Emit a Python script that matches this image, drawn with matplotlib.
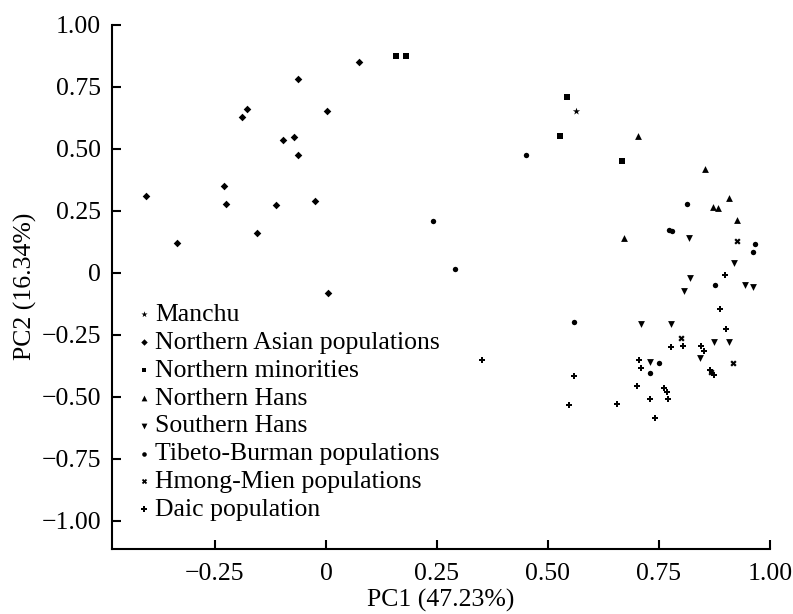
import matplotlib.pyplot as plt

# 集団ごとの PC1 / PC2 値
manchu_x = [0.562]
manchu_y = [0.651]

nasia_x = [-0.405, 0.075, -0.062, -0.177, -0.189, 0.002, -0.096, -0.072,
           -0.062, -0.229, -0.226, -0.113, -0.024, -0.155, -0.336, 0.005]
nasia_y = [0.310, 0.852, 0.780, 0.661, 0.629, 0.653, 0.535, 0.547,
           0.477, 0.350, 0.278, 0.273, 0.288, 0.159, 0.121, -0.081]

nmin_x = [0.158, 0.181, 0.543, 0.526, 0.667]
nmin_y = [0.875, 0.875, 0.708, 0.550, 0.450]

nhan_x = [0.703, 0.853, 0.907, 0.872, 0.884, 0.925, 0.671]
nhan_y = [0.551, 0.419, 0.302, 0.264, 0.260, 0.211, 0.139]

shan_x = [0.817, 0.918, 0.820, 0.806, 0.943, 0.962, 0.709, 0.777,
          0.874, 0.908, 0.842, 0.730]
shan_y = [0.141, 0.038, -0.019, -0.074, -0.050, -0.056, -0.207, -0.207,
          -0.279, -0.279, -0.345, -0.359]

tb_x = [0.242, 0.450, 0.290, 0.814, 0.773, 0.779, 0.966, 0.961,
        0.875, 0.559, 0.749, 0.730]
tb_y = [0.208, 0.477, 0.015, 0.276, 0.173, 0.169, 0.117, 0.083,
        -0.050, -0.198, -0.364, -0.403]

hm_x = [0.925, 0.800, 0.917, 0.868]
hm_y = [0.129, -0.265, -0.365, -0.400]

daic_x = [0.898, 0.887, 0.901, 0.776, 0.804, 0.844, 0.851, 0.705, 0.710,
          0.864, 0.873, 0.700, 0.762, 0.767, 0.770, 0.730, 0.655, 0.742,
          0.351, 0.559, 0.548]
daic_y = [-0.009, -0.145, -0.228, -0.300, -0.296, -0.296, -0.317, -0.353,
          -0.386, -0.392, -0.412, -0.457, -0.464, -0.480, -0.508, -0.509,
          -0.529, -0.586, -0.353, -0.418, -0.533]

x_ticks = [-0.25, 0, 0.25, 0.50, 0.75, 1.00]
x_ticklabels = ['\u22120.25', '0', '0.25', '0.50', '0.75', '1.00']
y_ticks = [-1.00, -0.75, -0.50, -0.25, 0, 0.25, 0.50, 0.75, 1.00]
y_ticklabels = ['\u22121.00', '\u22120.75', '\u22120.50', '\u22120.25', '0',
                '0.25', '0.50', '0.75', '1.00']

plt.rcParams['font.family'] = ['Liberation Serif', 'DejaVu Serif']

fig = plt.figure(figsize=(7.93, 6.14), dpi=100)
ax = fig.add_axes([0.1412, 0.1064, 0.8298, 0.853])

groups = [
    (manchu_x, manchu_y, '*', 30, 'Manchu'),
    (nasia_x, nasia_y, 'D', 15, 'Northern Asian populations'),
    (nmin_x, nmin_y, 's', 15, 'Northern minorities'),
    (nhan_x, nhan_y, '^', 24, 'Northern Hans'),
    (shan_x, shan_y, 'v', 24, 'Southern Hans'),
    (tb_x, tb_y, 'o', 15, 'Tibeto-Burman populations'),
    (hm_x, hm_y, 'X', 20, 'Hmong-Mien populations'),
    (daic_x, daic_y, 'P', 22, 'Daic population'),
]
for gx, gy, m, s, lab in groups:
    ax.scatter(gx, gy, marker=m, s=s, color='black', linewidths=0, label=lab)

ax.set_xlim(-0.482, 1.0)
ax.set_ylim(-1.113, 1.0)
ax.set_xticks(x_ticks)
ax.set_xticklabels(x_ticklabels)
ax.set_yticks(y_ticks)
ax.set_yticklabels(y_ticklabels)

for side in ['top', 'right']:
    ax.spines[side].set_visible(False)
for side in ['left', 'bottom']:
    ax.spines[side].set_linewidth(1.5)
ax.tick_params(axis='both', direction='in', length=6.7, width=1.5,
               labelsize=18.5)
ax.tick_params(axis='x', pad=10)
ax.tick_params(axis='y', pad=8)

ax.set_xlabel('PC1 (47.23%)', fontsize=18.5, labelpad=3)
ax.set_ylabel('PC2 (16.34%)', fontsize=18.5, labelpad=3)

ax.legend(loc='upper left', bbox_to_anchor=(0.041, 0.469), frameon=False,
          fontsize=18.5, markerscale=0.85, handlelength=0.4, handletextpad=0.23,
          labelspacing=0.19, borderpad=0, borderaxespad=0, scatterpoints=1)

plt.savefig('out.png', dpi=100)
plt.close()
